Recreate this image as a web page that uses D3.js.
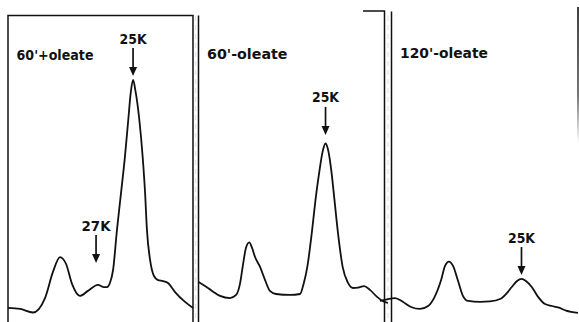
<!DOCTYPE html>
<html>
<head>
<meta charset="utf-8">
<script src="https://cdn.jsdelivr.net/npm/d3@7"></script>
<style>
  html, body { margin: 0; padding: 0; background: #fff; }
  svg { display: block; }
  text { font-family: "DejaVu Sans", sans-serif; font-weight: bold; fill: #111; }
</style>
</head>
<body>
<svg width="579" height="322"></svg>
<script>
// Lane names (one scan per lane)
const lanes = ["60'+oleate", "60'-oleate", "120'-oleate"]

// Densitometer scans: relative migration (0-100 across the lane) and density (arbitrary units)
const dist1 = [0, 6.5, 13.5, 20, 24.3, 28.1, 31.4, 34.6, 38.9, 43.2, 48.6, 51.9, 53.5, 55.1, 56.8, 58.9, 61.1, 63.2, 65.0, 66.4, 67.6, 68.9, 71.0, 72.8, 74.1, 75.1, 76.8, 78.9, 81.1, 83.8, 86.5, 90.3, 95.7, 100]
const dens1 = [4.2, 3.8, 2.3, 8.3, 19.2, 25.4, 22.5, 14.2, 9.2, 11.3, 13.8, 12.9, 12.9, 14.6, 20, 36.7, 52.1, 67.1, 82.5, 94.2, 99.2, 94.6, 82.5, 67.1, 52.1, 36.7, 24.2, 17.5, 15.8, 15.4, 14.6, 10.8, 6.7, 4.2]

const dist2 = [0, 3.5, 7.3, 11.6, 16.9, 20.2, 22.3, 23.9, 25.5, 27.3, 28.8, 30.4, 33.1, 35.8, 38.4, 41.7, 49.2, 54.6, 56.5, 58.5, 60.9, 62.9, 65.1, 66.7, 68.3, 69.9, 71.5, 73.1, 75.0, 77.5, 80.4, 83.1, 85.8, 89.0, 92.2, 96.0, 100, 101.9]
const dens2 = [15, 13.3, 11.3, 9.2, 8.3, 9.6, 14.2, 22.1, 29.2, 31.5, 29.2, 25.4, 21.3, 15.8, 11.3, 10, 9.6, 10, 14.2, 21.3, 35.4, 49.2, 61.7, 69.2, 72.7, 69.2, 60.8, 49.2, 35.4, 21.3, 14.6, 12.5, 12.7, 13.3, 11.7, 8.8, 6.7, 6.3]

const dist3 = [-6.2, -2.9, 1.9, 6.2, 10.5, 15.3, 19.6, 22.8, 26.6, 28.7, 30.8, 33.0, 35.7, 38.3, 41.0, 47.5, 52.8, 58.2, 61.4, 64.5, 67.3, 69.7, 72.1, 75.2, 78.6, 82.3, 86.1, 89.3, 93.6, 100]
const dens3 = [7.1, 7.7, 8.3, 6.7, 4.6, 3.8, 5, 8.3, 15.8, 21.7, 23.5, 21.7, 15.4, 9.2, 7.1, 6.7, 6.9, 7.9, 10, 12.9, 15.4, 16.3, 15.4, 12.9, 8.8, 5.8, 5, 4.4, 3.1, 2.1]

const scans = [
    d3.zip(dist1, dens1),
    d3.zip(dist2, dens2),
    d3.zip(dist3, dens3)
]

// Marked bands: label, lane, position and where the arrow tip sits (density units)
const markLabels = ["25K", "27K", "25K", "25K"]
const markLane = [0, 0, 1, 2]
const markDist = [67.6, 47.6, 68.3, 69.7]
const markTip = [100.8, 22.9, 76.3, 17.9]

const svg = d3.select('svg')
const height = +svg.attr('height')

// Layout of the three strips
const panels = [
    { x0: 8, x1: 193, top: 15.5 },
    { x0: 198.5, x1: 384.5, top: 15.5 },
    { x0: 391.5, x1: 578, top: 11.5 }
]

// Density scale is shared by all lanes
const y = d3.scaleLinear()
    .domain([0, 100])
    .range([318, 78])

const xScales = panels.map(p => d3.scaleLinear()
    .domain([0, 100])
    .range([p.x0, p.x1]))

// fade for the last frame line
const defs = svg.append('defs')
const grad = defs.append('linearGradient')
    .attr('id', 'fade')
    .attr('x1', 0).attr('y1', 0)
    .attr('x2', 0).attr('y2', 1)
grad.append('stop').attr('offset', '0%').attr('stop-color', '#111')
grad.append('stop').attr('offset', '65%').attr('stop-color', '#555')
grad.append('stop').attr('offset', '100%').attr('stop-color', '#fff')

const frame = svg.append('g')
    .attr('stroke', '#111')
    .attr('stroke-width', 1.5)
    .attr('fill', 'none')

// first strip: box open at the bottom
frame.append('path')
    .attr('d', `M${panels[0].x0},${height} V${panels[0].top} H${panels[0].x1} V${height}`)

// second strip
frame.append('line')
    .attr('x1', panels[1].x0).attr('x2', panels[1].x0)
    .attr('y1', panels[1].top).attr('y2', height)
frame.append('path')
    .attr('d', `M363,11 H${panels[1].x1} V${height}`)

// third strip
frame.append('line')
    .attr('x1', panels[2].x0).attr('x2', panels[2].x0)
    .attr('y1', panels[2].top).attr('y2', height)
svg.append('rect')
    .attr('x', panels[2].x1 - 0.8)
    .attr('y', 7)
    .attr('width', 1.6)
    .attr('height', 136)
    .attr('fill', 'url(#fade)')

// faint dashed seams between the strips
svg.selectAll('line.seam')
    .data([195.7, 388])
    .join('line')
        .attr('class', 'seam')
        .attr('x1', d => d).attr('x2', d => d)
        .attr('y1', 16).attr('y2', height)
        .attr('stroke', '#d0d0d0')
        .attr('stroke-width', 0.7)
        .attr('stroke-dasharray', '5,4')

// the scans
svg.selectAll('path.scan')
    .data(scans)
    .join('path')
        .attr('class', 'scan')
        .attr('fill', 'none')
        .attr('stroke', '#111')
        .attr('stroke-width', 1.8)
        .attr('stroke-linejoin', 'round')
        .attr('d', (d, i) => d3.line()
            .x(p => xScales[i](p[0]))
            .y(p => y(p[1]))
            .curve(d3.curveMonotoneX)(d))

// lane titles
const titleWidths = [77, 80.5, 88]
svg.selectAll('text.lane')
    .data(lanes)
    .join('text')
        .attr('class', 'lane')
        .attr('x', (d, i) => panels[i].x0 + 8.5)
        .attr('y', (d, i) => [60, 59, 57.5][i])
        .attr('font-size', 13.5)
        .attr('textLength', (d, i) => titleWidths[i])
        .attr('lengthAdjust', 'spacingAndGlyphs')
        .text(d => d)

// arrows with size labels
const arrowLen = 28
const marks = svg.selectAll('g.mark')
    .data(markLabels.map((label, i) => ({
        label,
        x: xScales[markLane[i]](markDist[i]),
        tip: y(markTip[i])
    })))
    .join('g')
        .attr('class', 'mark')
        .attr('transform', d => `translate(${d.x}, ${d.tip})`)

marks.append('line')
    .attr('y1', -arrowLen)
    .attr('y2', -7)
    .attr('stroke', '#111')
    .attr('stroke-width', 1.7)

marks.append('path')
    .attr('d', 'M-4,-9 L4,-9 L0,0 Z')
    .attr('fill', '#111')

marks.append('text')
    .attr('y', -arrowLen - 4.5)
    .attr('text-anchor', 'middle')
    .attr('font-size', 14)
    .attr('textLength', (d, i) => i === 1 ? 29 : 27)
    .attr('lengthAdjust', 'spacingAndGlyphs')
    .text(d => d.label)
</script>
</body>
</html>
